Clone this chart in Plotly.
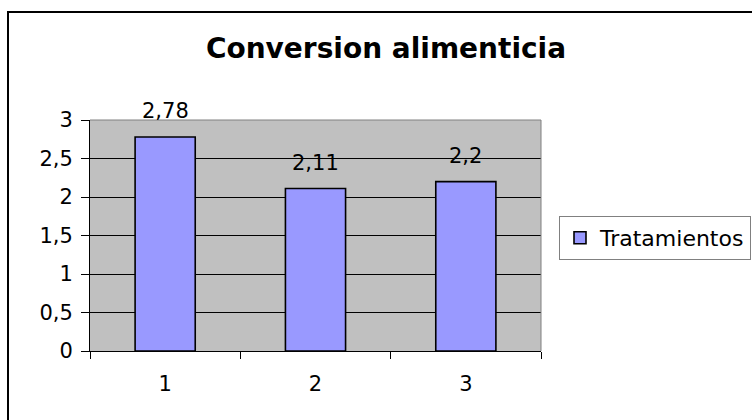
import plotly.graph_objects as go

categories = ["1", "2", "3"]
values = [2.78, 2.11, 2.2]
series_name = "Tratamientos"
title_text = "Conversion alimenticia"
y_tick_vals = [0, 0.5, 1, 1.5, 2, 2.5, 3]

FONT = "DejaVu Sans"

fig = go.Figure()
fig.add_trace(go.Bar(
    x=categories, y=values, name=series_name,
    marker=dict(color="#9999FF", line=dict(color="black", width=1.6)),
    showlegend=True,
))

for i, v in enumerate(values):
    fig.add_annotation(
        x=i, y=v, xref="x", yref="y",
        text=str(v).replace(".", ","),
        showarrow=False, yanchor="middle", yshift=26,
        font=dict(family=FONT, size=21, color="black"),
    )

# plot-area border (top/right, gray)
fig.add_shape(type="line", xref="paper", yref="paper", x0=0, x1=1, y0=1, y1=1,
              line=dict(color="#808080", width=1))
fig.add_shape(type="line", xref="paper", yref="paper", x0=1, x1=1, y0=0, y1=1,
              line=dict(color="#808080", width=1))
# outer chart border
fig.add_shape(type="rect", xref="paper", yref="paper",
              x0=(8 - 90) / 451, x1=(770 - 90) / 451,
              y0=(351 - 440) / 231, y1=(351 - 12) / 231,
              line=dict(color="black", width=2), layer="above")

fig.update_layout(
    width=752, height=420,
    margin=dict(l=90, r=211, t=120, b=69, autoexpand=False),
    paper_bgcolor="white",
    plot_bgcolor="#C0C0C0",
    separators=", ",
    font=dict(family=FONT, color="black"),
    bargap=0.6,
    title=dict(text=title_text, x=(386 - 90) / 451, xref="paper", xanchor="center",
               y=1 - 48 / 420, yref="container", yanchor="middle",
               font=dict(family=FONT, size=28, weight="bold", color="black")),
    legend=dict(x=(559 - 90) / 451, xanchor="left", y=(351 - 216) / 231, yanchor="top",
                bgcolor="white", bordercolor="#808080", borderwidth=1,
                font=dict(family=FONT, size=22, color="black"),
                itemwidth=30),
    xaxis=dict(type="category", tickson="boundaries", ticks="outside", ticklen=7,
               tickcolor="black", showline=True, linecolor="black", linewidth=1,
               showgrid=False, tickfont=dict(family=FONT, size=21, color="black"),
               ticklabelstandoff=14),
    yaxis=dict(range=[0, 3], tickvals=y_tick_vals, ticks="outside", ticklen=8,
               tickcolor="black", showline=True, linecolor="black", linewidth=1,
               showgrid=True, gridcolor="black", gridwidth=1, zeroline=False,
               tickfont=dict(family=FONT, size=21, color="black"),
               ticklabelstandoff=4),
)

fig.write_html("out.html", config={"displayModeBar": False},
               post_script="document.body.style.margin='0';")
